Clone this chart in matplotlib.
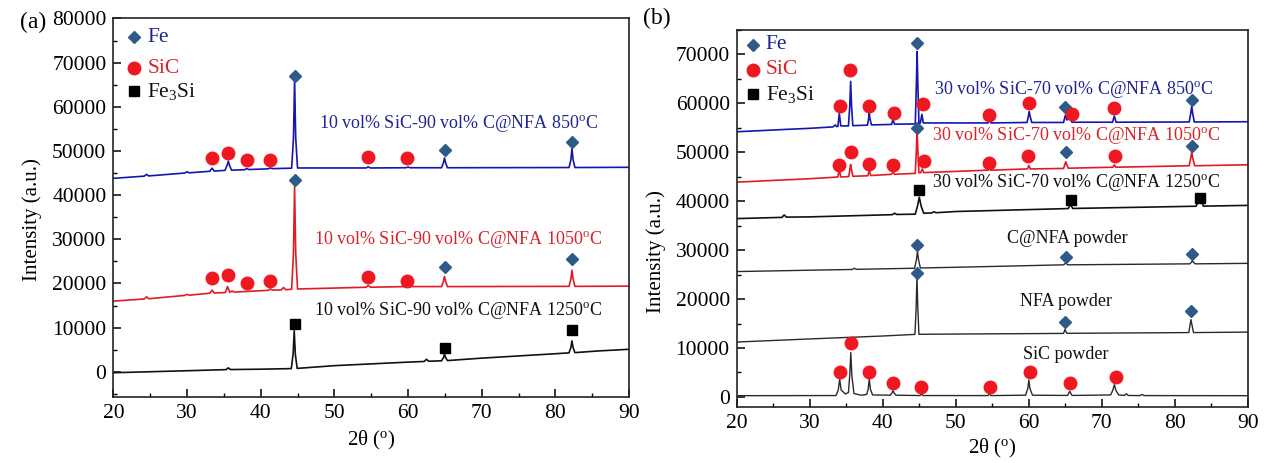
import matplotlib
matplotlib.use("Agg")
import matplotlib.pyplot as plt
from matplotlib.ticker import MultipleLocator

plt.rcParams['font.family'] = ['Liberation Serif', 'DejaVu Serif']
plt.rcParams['mathtext.fontset'] = 'custom'
plt.rcParams['mathtext.rm'] = 'Liberation Serif'
plt.rcParams['mathtext.it'] = 'Liberation Serif:italic'

# ---------------- Data: panel (a) ----------------
a850_x = [20, 24.2, 24.5, 24.8, 29.7, 30.0, 30.3, 33.1, 33.4, 33.7, 35.15, 35.45, 35.6, 35.75, 36.05,
          37.8, 38.1, 38.4, 41.0, 41.3, 41.6, 44.2, 44.45, 44.6, 44.75, 45.0, 54.3, 54.6, 54.9,
          59.7, 60.0, 60.3, 64.55, 64.8, 64.95, 65.1, 65.35, 81.85, 82.1, 82.25, 82.4, 82.65, 90]
a850_y = [43800, 44300, 44700, 44350, 45000, 45300, 45050, 45400, 46100, 45450, 45600, 46800, 47700, 46800, 45650,
          45750, 46000, 45800, 45950, 46150, 46000, 46100, 53000, 66200, 53000, 46150, 46150, 46400, 46150,
          46200, 46350, 46200, 46200, 47300, 48400, 47300, 46200, 46250, 48000, 50500, 48000, 46250, 46300]

a1050_x = [20, 24.2, 24.5, 24.8, 29.7, 30.0, 30.3, 33.1, 33.4, 33.7, 35.2, 35.5, 35.8, 36.1, 36.4,
           41.0, 41.3, 41.6, 42.8, 43.1, 43.4, 44.2, 44.45, 44.6, 44.75, 45.0, 54.3, 54.6, 54.9,
           59.7, 60.0, 60.3, 64.55, 64.8, 64.95, 65.1, 65.35, 81.85, 82.1, 82.25, 82.4, 82.65, 90]
a1050_y = [16000, 16500, 17000, 16550, 17300, 17550, 17350, 17800, 18500, 17850, 17950, 19300, 18000, 18300, 18050,
           18450, 18750, 18500, 18550, 19100, 18600, 18700, 27000, 42000, 27000, 18750, 19150, 19550, 19150,
           19300, 19450, 19300, 19300, 20500, 21600, 20500, 19300, 19350, 21000, 23000, 21000, 19350, 19400]

a1250_x = [20, 30, 35.3, 35.6, 35.9, 40, 44.15, 44.4, 44.55, 44.7, 44.95, 50, 60, 62.2, 62.5, 62.8,
           64.55, 64.8, 64.95, 65.1, 65.35, 70, 80, 81.85, 82.1, 82.25, 82.4, 82.65, 86, 90]
a1250_y = [-200, 250, 500, 900, 520, 600, 730, 4000, 9300, 4000, 780, 1400, 2200, 2350, 2850, 2400,
           2500, 3200, 4000, 3200, 2550, 3100, 4100, 4300, 5500, 7000, 5500, 4350, 4750, 5100]

a_fe_x = [44.6, 64.95, 82.25, 44.6, 64.95, 82.25]
a_fe_y = [67050, 50200, 52100, 43500, 23800, 25600]
a_sic_x = [33.4, 35.5, 38.1, 41.3, 54.5, 59.8, 33.4, 35.5, 38.1, 41.3, 54.5, 59.8]
a_sic_y = [48300, 49500, 48000, 48000, 48600, 48300, 21300, 21900, 20100, 20600, 21500, 20600]
a_fe3si_x = [44.6, 64.95, 82.25]
a_fe3si_y = [10800, 5400, 9500]

a_labels = ['10 vol% SiC-90 vol% C@NFA 850$^{\\rm o}$C',
            '10 vol% SiC-90 vol% C@NFA 1050$^{\\rm o}$C',
            '10 vol% SiC-90 vol% C@NFA 1250$^{\\rm o}$C']
a_label_x = [66.8, 66.8, 66.8]
a_label_y = [56300, 30000, 13800]

# ---------------- Data: panel (b) ----------------
b850_x = [20, 27, 30, 33.2, 33.5, 33.7, 33.85, 34.05, 34.25, 35.3, 35.48, 35.6, 35.72, 35.9,
          37.9, 38.05, 38.15, 38.25, 38.45, 41.2, 41.4, 41.6, 44.45, 44.6, 44.7, 44.8, 44.95,
          45.15, 45.35, 45.55, 54.4, 54.6, 54.8, 59.75, 59.95, 60.05, 60.15, 60.4,
          64.75, 65.0, 65.2, 65.6, 65.9, 71.45, 71.7, 71.95, 81.95, 82.15, 82.3, 82.45, 82.65, 90]
b850_y = [54200, 54700, 54900, 55200, 55600, 55250, 55300, 57950, 55400, 55400, 59500, 64500, 59500, 55450,
          55550, 56800, 58070, 56800, 55600, 55700, 56740, 55750, 55800, 64000, 70600, 64000, 55900,
          56000, 57750, 56000, 56000, 56800, 56000, 56100, 57500, 58300, 57500, 56100,
          56100, 57600, 56600, 57100, 56150, 56150, 57400, 56150, 56200, 57800, 59400, 57800, 56200, 56250]

b1050_x = [20, 30, 33.85, 34.05, 34.25, 35.35, 35.5, 35.6, 35.7, 35.9, 37.95, 38.15, 38.35,
           41.2, 41.4, 41.6, 44.45, 44.6, 44.7, 44.8, 44.95, 45.2, 45.4, 45.6, 54.4, 54.6, 54.8,
           59.8, 60.0, 60.2, 64.75, 64.95, 65.05, 65.15, 65.4, 71.5, 71.7, 71.9,
           81.95, 82.15, 82.3, 82.45, 82.7, 90]
b1050_y = [43900, 44600, 44950, 46500, 44950, 45050, 46600, 47500, 46600, 45100, 45200, 46300, 45250,
           45500, 46000, 45500, 45700, 50500, 54700, 50500, 45800, 45850, 46600, 45850, 46350, 46650, 46350,
           46600, 47300, 46600, 46700, 47600, 48050, 47600, 46750, 46950, 47450, 46950,
           47250, 48700, 50100, 48700, 47250, 47450]

b1250_x = [20, 26.2, 26.5, 26.8, 30, 41.3, 41.6, 41.9, 44.45, 44.75, 45.0, 45.25, 45.6,
           46.7, 47.0, 47.3, 50, 65.4, 65.7, 66.0, 80, 82.9, 83.2, 83.4, 83.6, 83.9, 90]
b1250_y = [36450, 36700, 37200, 36750, 36800, 37250, 37550, 37300, 37350, 39000, 40800, 39000, 37550,
           37600, 37850, 37650, 37900, 38500, 39400, 38520, 38900, 38980, 40000, 40500, 40000, 39000, 39150]

bcnfa_x = [20, 30, 35.8, 36.1, 36.4, 44.35, 44.6, 44.75, 44.9, 45.15, 50, 64.75, 65.05, 65.35,
           82.05, 82.4, 82.75, 90]
bcnfa_y = [25620, 25900, 26050, 26300, 26080, 26300, 28000, 29800, 28000, 26350, 26500, 27000, 27350, 27000,
           27200, 27800, 27200, 27300]

bnfa_x = [20, 30, 40, 44.4, 44.56, 44.68, 44.8, 44.95, 50, 64.75, 64.95, 65.2,
          81.9, 82.08, 82.2, 82.32, 82.55, 90]
bnfa_y = [11220, 11850, 12450, 12780, 18000, 24600, 18000, 12800, 12850, 12980, 13800, 13000,
          13150, 14800, 15800, 14800, 13150, 13250]

bsic_x = [20, 33.6, 33.9, 34.1, 34.3, 34.9, 35.3, 35.48, 35.62, 35.76, 36.05, 37.0,
          37.8, 38.0, 38.15, 38.3, 38.6, 41.05, 41.25, 41.4, 41.55, 41.8, 45.1, 45.3, 45.5,
          54.4, 54.6, 54.8, 59.55, 59.85, 60.0, 60.15, 60.5, 65.3, 65.6, 65.9,
          71.2, 71.5, 71.7, 71.9, 72.3, 73.1, 73.35, 73.6, 75.2, 75.5, 75.8, 90]
bsic_y = [250, 280, 1400, 3650, 1400, 600, 900, 4500, 9060, 4500, 700, 350,
          500, 1600, 3650, 1600, 400, 350, 800, 1280, 800, 350, 280, 600, 280,
          270, 650, 270, 350, 1700, 3450, 1700, 350, 300, 1150, 300,
          400, 1400, 2500, 1400, 400, 300, 650, 300, 270, 500, 270, 250]

b_fe_x = [44.7, 65.0, 82.3, 44.65, 65.05, 82.3, 44.75, 65.1, 82.4, 44.68, 64.95, 82.2]
b_fe_y = [72300, 59200, 60700, 55000, 50000, 51300, 31000, 28500, 29200, 25300, 15300, 17500]
b_sic_x = [34.1, 35.55, 38.1, 41.5, 45.5, 54.6, 60.0, 65.9, 71.7,
           34.0, 35.6, 38.15, 41.35, 45.6, 54.6, 59.9, 71.8,
           34.1, 35.6, 38.15, 41.35, 45.2, 54.7, 60.1, 65.7, 71.9]
b_sic_y = [59400, 66900, 59400, 58100, 59800, 57700, 60000, 57800, 59100,
           47400, 50000, 47700, 47500, 48200, 47900, 49300, 49300,
           5000, 10950, 5100, 2800, 1950, 2100, 5000, 2850, 4100]
b_fe3si_x = [45.0, 65.8, 83.5]
b_fe3si_y = [42200, 40200, 40700]

b_labels = ['30 vol% SiC-70 vol% C@NFA 850$^{\\rm o}$C',
            '30 vol% SiC-70 vol% C@NFA 1050$^{\\rm o}$C',
            '30 vol% SiC-70 vol% C@NFA 1250$^{\\rm o}$C',
            'C@NFA powder', 'NFA powder', 'SiC powder']
b_label_x = [66.1, 66.4, 66.4, 65.3, 65.1, 65.0]
b_label_y = [62800, 53350, 43870, 32450, 19530, 8720]

legend_names = ['Fe', 'SiC', 'Fe$_{\\rm 3}$Si']

# ---------------- Styles ----------------
BLUE = '#1515b0'
BLUE_T = '#1c2590'
RED = '#e21b23'
RED_T = '#d8232a'
BLACK = '#111111'
GRAY = '#2a2a2a'
DIA = '#2d5a86'
CIRC = '#f01820'

fig = plt.figure(figsize=(12.68, 4.63), dpi=100)
axA = fig.add_axes([0.0894, 0.1425, 0.4067, 0.8177])
axB = fig.add_axes([0.5810, 0.1216, 0.4032, 0.8136])


def style_axes(ax, ylim, ymaj):
    ax.set_xlim(20, 90)
    ax.set_ylim(*ylim)
    ax.xaxis.set_major_locator(MultipleLocator(10))
    ax.xaxis.set_minor_locator(MultipleLocator(5))
    ax.yaxis.set_major_locator(MultipleLocator(ymaj))
    ax.yaxis.set_minor_locator(MultipleLocator(ymaj / 2))
    ax.tick_params(axis='both', which='major', direction='in', length=6, width=1.1,
                   labelsize=15.5, top=False, right=False, pad=5)
    ax.tick_params(axis='both', which='minor', direction='in', length=3, width=1.0,
                   top=False, right=False)
    for s in ax.spines.values():
        s.set_linewidth(1.2)
        s.set_color('#222222')


style_axes(axA, (-5700, 80000), 10000)
style_axes(axB, (-2000, 75000), 10000)

lw = 1.2
axA.plot(a850_x, a850_y, color=BLUE, lw=lw)
axA.plot(a1050_x, a1050_y, color=RED, lw=lw)
axA.plot(a1250_x, a1250_y, color=BLACK, lw=lw)

axA.plot(a_fe_x, a_fe_y, 'D', color=DIA, ms=6.5, ls='none')
axA.plot(a_sic_x, a_sic_y, 'o', color=CIRC, ms=9, ls='none')
axA.plot(a_fe3si_x, a_fe3si_y, 's', color='black', ms=7, ls='none')

for t, x, y, c in zip(a_labels, a_label_x, a_label_y, [BLUE_T, RED_T, BLACK]):
    axA.text(x, y, t, color=c, fontsize=13, ha='center', va='center')

axB.plot(b850_x, b850_y, color=BLUE, lw=lw)
axB.plot(b1050_x, b1050_y, color=RED, lw=lw)
axB.plot(b1250_x, b1250_y, color=BLACK, lw=lw)
axB.plot(bcnfa_x, bcnfa_y, color=GRAY, lw=1.0)
axB.plot(bnfa_x, bnfa_y, color=GRAY, lw=1.0)
axB.plot(bsic_x, bsic_y, color=GRAY, lw=1.0)

axB.plot(b_fe_x, b_fe_y, 'D', color=DIA, ms=6.5, ls='none')
axB.plot(b_sic_x, b_sic_y, 'o', color=CIRC, ms=9, ls='none')
axB.plot(b_fe3si_x, b_fe3si_y, 's', color='black', ms=7, ls='none')

for t, x, y, c in zip(b_labels, b_label_x, b_label_y,
                      [BLUE_T, RED_T, BLACK, BLACK, BLACK, BLACK]):
    axB.text(x, y, t, color=c, fontsize=13, ha='center', va='center')


# legends drawn as markers + text
def draw_legend(ax, mx, tx, ys):
    ax.plot([mx], [ys[0]], 'D', color=DIA, ms=6.5)
    ax.plot([mx], [ys[1]], 'o', color=CIRC, ms=9)
    ax.plot([mx], [ys[2]], 's', color='black', ms=7)
    for name, y, c in zip(legend_names, ys, [BLUE_T, RED_T, BLACK]):
        ax.text(tx, y, name, color=c, fontsize=15.5, ha='left', va='center')


draw_legend(axA, 22.85, 24.6, [75700, 68700, 63500])
draw_legend(axB, 22.25, 24.0, [72000, 66900, 61900])

# axis labels
fig.text(32 / 1268, 1 - 220 / 463, 'Intensity (a.u.)', rotation=90, fontsize=15,
         ha='center', va='center')
fig.text(656 / 1268, 1 - 252 / 463, 'Intensity (a.u.)', rotation=90, fontsize=15,
         ha='center', va='center')
fig.text(371 / 1268, 1 - 440 / 463, '2θ ($^{\\rm o}$)', fontsize=15, ha='center', va='center')
fig.text(992 / 1268, 1 - 448 / 463, '2θ ($^{\\rm o}$)', fontsize=15, ha='center', va='center')

fig.text(20 / 1268, 1 - 22 / 463, '(a)', fontsize=17, ha='left', va='center')
fig.text(643 / 1268, 1 - 18 / 463, '(b)', fontsize=17, ha='left', va='center')

fig.savefig('out.png', dpi=100)
